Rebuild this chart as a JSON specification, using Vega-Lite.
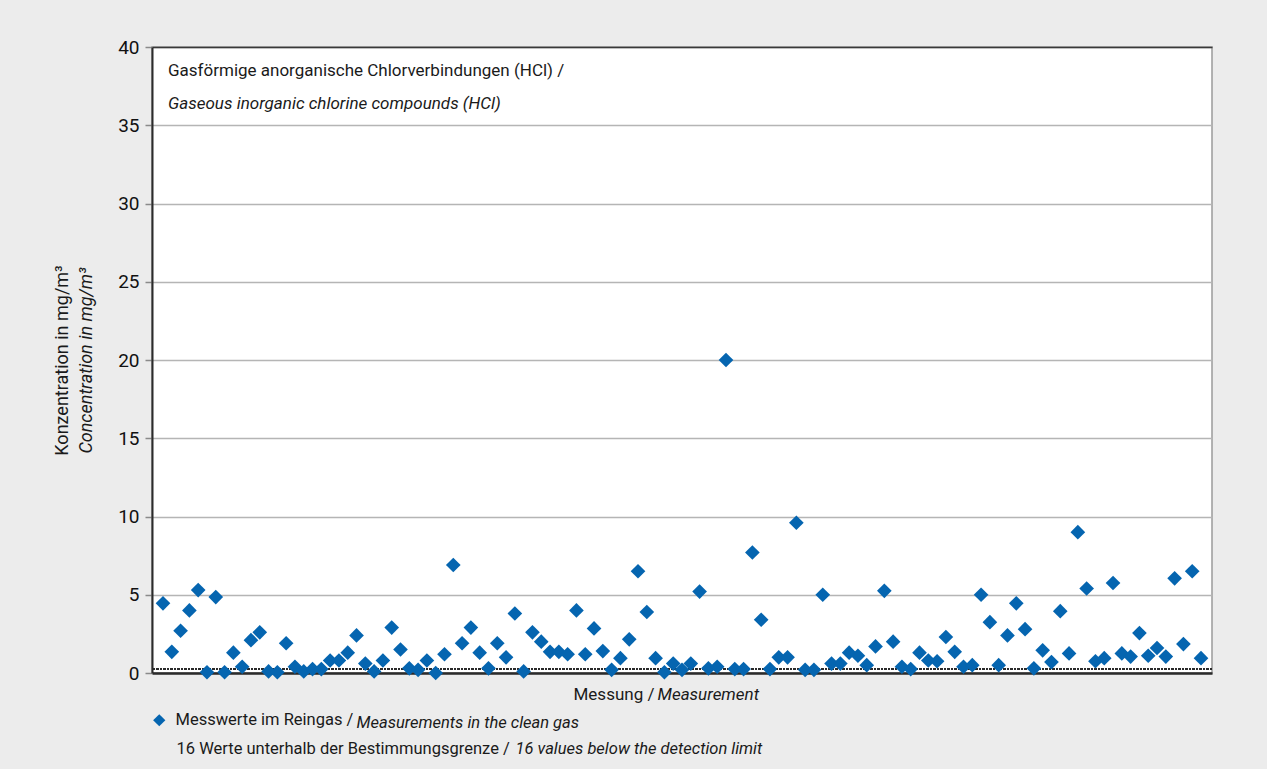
{
  "$schema": "https://vega.github.io/schema/vega-lite/v6.json",
  "width": 1060,
  "height": 626,
  "autosize": {"type": "none"},
  "padding": {"left": 152, "top": 47, "right": 55, "bottom": 96},
  "background": "#ececec",
  "title": {
    "text": "Gasförmige anorganische Chlorverbindungen (HCl) /",
    "subtitle": "Gaseous inorganic chlorine compounds (HCl)",
    "anchor": "start", "frame": "group", "dx": 16, "dy": 75, "offset": 0,
    "font": "Roboto", "subtitleFont": "Roboto",
    "fontSize": 17, "fontWeight": "normal", "color": "#1a1a1a",
    "subtitleFontSize": 17, "subtitleFontStyle": "italic", "subtitleColor": "#1a1a1a", "subtitlePadding": 16
  },
  "datasets": {
    "hcl": [
      {"n":1,"v":4.45},{"n":2,"v":1.35},{"n":3,"v":2.7},{"n":4,"v":4.0},{"n":5,"v":5.3},
      {"n":6,"v":0.05},{"n":7,"v":4.85},{"n":8,"v":0.05},{"n":9,"v":1.3},{"n":10,"v":0.4},
      {"n":11,"v":2.1},{"n":12,"v":2.6},{"n":13,"v":0.1},{"n":14,"v":0.05},{"n":15,"v":1.9},
      {"n":16,"v":0.4},{"n":17,"v":0.1},{"n":18,"v":0.25},{"n":19,"v":0.25},{"n":20,"v":0.8},
      {"n":21,"v":0.8},{"n":22,"v":1.3},{"n":23,"v":2.4},{"n":24,"v":0.6},{"n":25,"v":0.1},
      {"n":26,"v":0.8},{"n":27,"v":2.9},{"n":28,"v":1.5},{"n":29,"v":0.3},{"n":30,"v":0.2},
      {"n":31,"v":0.8},{"n":32,"v":0.0},{"n":33,"v":1.2},{"n":34,"v":6.9},{"n":35,"v":1.9},
      {"n":36,"v":2.9},{"n":37,"v":1.3},{"n":38,"v":0.3},{"n":39,"v":1.9},{"n":40,"v":1.0},
      {"n":41,"v":3.8},{"n":42,"v":0.1},{"n":43,"v":2.6},{"n":44,"v":2.0},{"n":45,"v":1.35},
      {"n":46,"v":1.35},{"n":47,"v":1.2},{"n":48,"v":4.0},{"n":49,"v":1.2},{"n":50,"v":2.85},
      {"n":51,"v":1.4},{"n":52,"v":0.2},{"n":53,"v":0.95},{"n":54,"v":2.15},{"n":55,"v":6.5},
      {"n":56,"v":3.9},{"n":57,"v":0.95},{"n":58,"v":0.05},{"n":59,"v":0.6},{"n":60,"v":0.2},
      {"n":61,"v":0.6},{"n":62,"v":5.2},{"n":63,"v":0.3},{"n":64,"v":0.4},{"n":65,"v":20.0},
      {"n":66,"v":0.25},{"n":67,"v":0.25},{"n":68,"v":7.7},{"n":69,"v":3.4},{"n":70,"v":0.25},
      {"n":71,"v":1.0},{"n":72,"v":1.0},{"n":73,"v":9.6},{"n":74,"v":0.2},{"n":75,"v":0.2},
      {"n":76,"v":5.0},{"n":77,"v":0.6},{"n":78,"v":0.6},{"n":79,"v":1.3},{"n":80,"v":1.1},
      {"n":81,"v":0.5},{"n":82,"v":1.7},{"n":83,"v":5.25},{"n":84,"v":2.0},{"n":85,"v":0.4},
      {"n":86,"v":0.25},{"n":87,"v":1.3},{"n":88,"v":0.8},{"n":89,"v":0.75},{"n":90,"v":2.3},
      {"n":91,"v":1.35},{"n":92,"v":0.4},{"n":93,"v":0.5},{"n":94,"v":5.0},{"n":95,"v":3.25},
      {"n":96,"v":0.5},{"n":97,"v":2.4},{"n":98,"v":4.45},{"n":99,"v":2.8},{"n":100,"v":0.3},
      {"n":101,"v":1.45},{"n":102,"v":0.7},{"n":103,"v":3.95},{"n":104,"v":1.25},{"n":105,"v":9.0},
      {"n":106,"v":5.4},{"n":107,"v":0.75},{"n":108,"v":0.95},{"n":109,"v":5.75},{"n":110,"v":1.25},
      {"n":111,"v":1.05},{"n":112,"v":2.55},{"n":113,"v":1.1},{"n":114,"v":1.6},{"n":115,"v":1.05},
      {"n":116,"v":6.05},{"n":117,"v":1.85},{"n":118,"v":6.5},{"n":119,"v":0.95}
    ]
  },
  "data": {"name": "hcl"},
  "layer": [
    {
      "mark": {"type": "rule", "strokeDash": [2, 1.5], "color": "#2b2b2b", "strokeWidth": 1.5},
      "encoding": {
        "y": {"datum": 0.25, "type": "quantitative",
          "scale": {"domain": [0, 40], "nice": false, "zero": false},
          "axis": {"orient": "left", "domain": false, "ticks": false, "labels": false, "grid": false,
            "title": "Konzentration in mg/m³", "titleFontStyle": "normal", "titleFontWeight": "normal",
            "titleFontSize": 18, "titleColor": "#1a1a1a", "titleFont": "Roboto",
            "titleAngle": -90, "titleX": -90, "titleY": 313, "titleAlign": "center", "titleBaseline": "middle"}}
      }
    },
    {
      "mark": {"type": "point", "shape": "diamond", "filled": true, "size": 215, "opacity": 1},
      "encoding": {
        "x": {"field": "n", "type": "quantitative",
          "scale": {"domain": [-0.25, 120.25], "nice": false, "zero": false},
          "axis": {"orient": "bottom", "domain": true, "domainColor": "#2b2b2b", "domainWidth": 2.5,
            "ticks": false, "labels": false, "grid": false,
            "title": "Messung /", "titleFontStyle": "normal", "titleFontWeight": "normal", "titleFontSize": 17,
            "titleColor": "#1a1a1a", "titleFont": "Roboto",
            "titleX": 421, "titleY": 26, "titleAlign": "left", "titleBaseline": "alphabetic"}},
        "y": {"field": "v", "type": "quantitative",
          "scale": {"domain": [0, 40], "nice": false, "zero": false},
          "axis": {"orient": "left", "values": [0, 5, 10, 15, 20, 25, 30, 35, 40],
            "grid": true, "gridColor": "#b5b5b5", "gridWidth": 1.5,
            "domain": true, "domainColor": "#2b2b2b", "domainWidth": 2,
            "ticks": true, "tickColor": "#8a8a8a", "tickSize": 7, "tickWidth": 1.5,
            "labelPadding": 6, "labelFontSize": 19, "labelColor": "#111111", "labelFont": "Roboto",
            "title": "Concentration in mg/m³", "titleFontStyle": "italic", "titleFontWeight": "normal",
            "titleFontSize": 18, "titleColor": "#1a1a1a", "titleFont": "Roboto",
            "titleAngle": -90, "titleX": -66, "titleY": 313, "titleAlign": "center", "titleBaseline": "middle"}},
        "color": {"datum": "Messwerte im Reingas /", "type": "nominal",
          "scale": {"range": ["#0565b0"]},
          "legend": {"orient": "none", "legendX": -1, "legendY": 665, "title": null,
            "symbolType": "diamond", "symbolSize": 150, "labelOffset": 8,
            "labelFontSize": 16.5, "labelColor": "#1a1a1a", "labelLimit": 0, "labelFont": "Roboto"}}
      }
    },
    {
      "mark": {"type": "point", "opacity": 0},
      "encoding": {
        "x": {"field": "n", "type": "quantitative",
          "scale": {"domain": [-0.25, 120.25], "nice": false, "zero": false},
          "axis": {"orient": "bottom", "domain": false, "ticks": false, "labels": false, "grid": false,
            "title": "Measurement", "titleFontStyle": "italic", "titleFontWeight": "normal", "titleFontSize": 17,
            "titleColor": "#1a1a1a", "titleFont": "Roboto",
            "titleX": 505, "titleY": 26, "titleAlign": "left", "titleBaseline": "alphabetic"}},
        "y": {"field": "v", "type": "quantitative", "scale": {"domain": [0, 40], "nice": false}, "axis": null}
      }
    },
    {
      "mark": {"type": "point", "opacity": 0},
      "encoding": {
        "x": {"field": "n", "type": "quantitative",
          "scale": {"domain": [-0.25, 120.25], "nice": false, "zero": false},
          "axis": {"orient": "bottom", "domain": false, "ticks": false, "labels": false, "grid": false,
            "title": "Measurements in the clean gas", "titleFontStyle": "italic", "titleFontWeight": "normal", "titleFontSize": 16.5,
            "titleColor": "#1a1a1a", "titleFont": "Roboto",
            "titleX": 204, "titleY": 54, "titleAlign": "left", "titleBaseline": "alphabetic"}},
        "y": {"field": "v", "type": "quantitative", "scale": {"domain": [0, 40], "nice": false}, "axis": null}
      }
    },
    {
      "mark": {"type": "point", "opacity": 0},
      "encoding": {
        "x": {"field": "n", "type": "quantitative",
          "scale": {"domain": [-0.25, 120.25], "nice": false, "zero": false},
          "axis": {"orient": "bottom", "domain": false, "ticks": false, "labels": false, "grid": false,
            "title": "16 Werte unterhalb der Bestimmungsgrenze /", "titleFontStyle": "normal", "titleFontWeight": "normal", "titleFontSize": 16.5,
            "titleColor": "#1a1a1a", "titleFont": "Roboto",
            "titleX": 24, "titleY": 80, "titleAlign": "left", "titleBaseline": "alphabetic"}},
        "y": {"field": "v", "type": "quantitative", "scale": {"domain": [0, 40], "nice": false}, "axis": null}
      }
    },
    {
      "mark": {"type": "point", "opacity": 0},
      "encoding": {
        "x": {"field": "n", "type": "quantitative",
          "scale": {"domain": [-0.25, 120.25], "nice": false, "zero": false},
          "axis": {"orient": "bottom", "domain": false, "ticks": false, "labels": false, "grid": false,
            "title": "16 values below the detection limit", "titleFontStyle": "italic", "titleFontWeight": "normal", "titleFontSize": 16.5,
            "titleColor": "#1a1a1a", "titleFont": "Roboto",
            "titleX": 363, "titleY": 80, "titleAlign": "left", "titleBaseline": "alphabetic"}},
        "y": {"field": "v", "type": "quantitative", "scale": {"domain": [0, 40], "nice": false}, "axis": null}
      }
    },
    {
      "mark": {"type": "point", "opacity": 0},
      "encoding": {
        "x": {"field": "n", "type": "quantitative",
          "scale": {"domain": [-0.25, 120.25], "nice": false, "zero": false},
          "axis": {"orient": "top", "domain": true, "domainColor": "#3a3a3a", "domainWidth": 1.5,
            "ticks": false, "labels": false, "grid": false, "title": null}},
        "y": {"field": "v", "type": "quantitative", "scale": {"domain": [0, 40], "nice": false}, "axis": null}
      }
    }
  ],
  "resolve": {
    "scale": {"x": "independent", "y": "independent"},
    "axis": {"x": "independent", "y": "independent"}
  },
  "config": {
    "font": "Roboto",
    "view": {"stroke": "#9a9a9a", "strokeWidth": 1.5, "fill": "white"}
  }
}
